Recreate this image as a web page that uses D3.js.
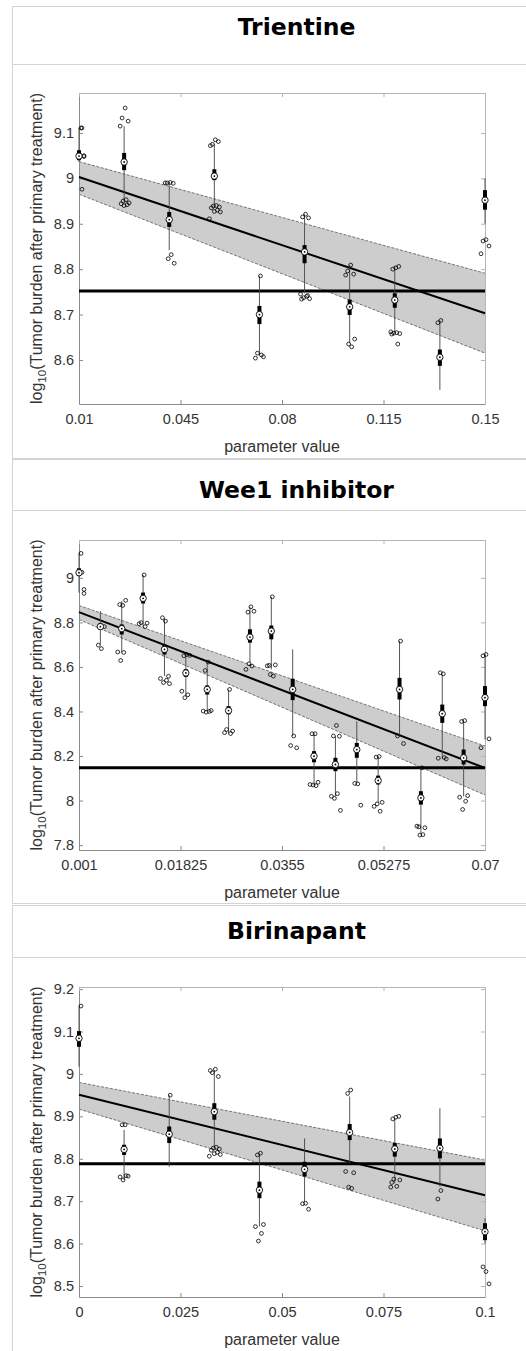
<!DOCTYPE html>
<html>
<head>
<meta charset="utf-8">
<script src="https://cdn.jsdelivr.net/npm/d3@7"></script>
<style>
  body { margin: 0; background: #fff; }
  svg { display: block; }
</style>
</head>
<body>
<svg id="chart"></svg>
<script>
// ---- data ----
const titles = ["Trientine", "Wee1 inhibitor", "Birinapant"];

// Trientine
const param1 = [0.01, 0.02556, 0.04111, 0.05667, 0.07222, 0.08778, 0.10333, 0.11889, 0.13444, 0.15];
const median1 = [9.049, 9.036, 8.909, 9.005, 8.700, 8.838, 8.717, 8.732, 8.606, 8.952];
const q1_1 = [9.040, 9.018, 8.893, 8.996, 8.679, 8.813, 8.699, 8.715, 8.587, 8.931];
const q3_1 = [9.062, 9.056, 8.926, 9.020, 8.719, 8.853, 8.733, 8.747, 8.623, 8.974];
const whLo1 = [9.036, 8.948, 8.842, 8.937, 8.611, 8.747, 8.637, 8.659, 8.534, 8.900];
const whHi1 = [9.111, 9.115, 8.992, 9.076, 8.785, 8.921, 8.809, 8.807, 8.688, 9.000];
const points1 = [
  [9.111, 9.111, 9.050, 9.048, 8.976],
  [9.155, 9.133, 9.126, 9.115, 8.953, 8.950, 8.946, 8.944, 8.942, 8.940],
  [8.991, 8.990, 8.989, 8.990, 8.832, 8.823, 8.813],
  [9.085, 9.075, 9.081, 9.072, 8.940, 8.939, 8.937, 8.935, 8.930, 8.927, 8.926, 8.911],
  [8.785, 8.615, 8.607, 8.604, 8.611],
  [8.921, 8.915, 8.913, 8.745, 8.740, 8.737, 8.735, 8.734, 8.742],
  [8.809, 8.796, 8.789, 8.787, 8.629, 8.635, 8.646],
  [8.803, 8.800, 8.806, 8.662, 8.660, 8.659, 8.658, 8.657, 8.635],
  [8.687, 8.682],
  [8.865, 8.862, 8.851, 8.834]
];
const fitEnds1 = [9.003, 8.703];
const bandHi1 = [9.037, 8.791];
const bandLo1 = [8.965, 8.615];
const control1 = 8.752;
const xTicks1 = ["0.01", "0.045", "0.08", "0.115", "0.15"];
const yTicks1 = ["8.6", "8.7", "8.8", "8.9", "9", "9.1"];

// Wee1 inhibitor
const param2 = [0.001, 0.004632, 0.008263, 0.011895, 0.015526, 0.019158, 0.022789, 0.026421, 0.030053, 0.033684,
                0.037316, 0.040947, 0.044579, 0.048211, 0.051842, 0.055474, 0.059105, 0.062737, 0.066368, 0.07];
const median2 = [9.023, 8.781, 8.772, 8.908, 8.679, 8.573, 8.499, 8.404, 8.734, 8.761,
                 8.499, 8.199, 8.162, 8.229, 8.090, 8.499, 8.012, 8.390, 8.192, 8.462];
const q1_2 = [9.008, 8.769, 8.746, 8.885, 8.656, 8.555, 8.476, 8.387, 8.709, 8.724,
              8.451, 8.172, 8.132, 8.192, 8.072, 8.454, 7.982, 8.349, 8.162, 8.424];
const q3_2 = [9.043, 8.796, 8.791, 8.934, 8.701, 8.590, 8.517, 8.424, 8.769, 8.786,
              8.547, 8.222, 8.192, 8.259, 8.112, 8.551, 8.042, 8.431, 8.229, 8.514];
const whLo2 = [8.933, 8.701, 8.664, 8.781, 8.559, 8.470, 8.400, 8.301, 8.619, 8.589,
               8.290, 8.070, 8.019, 8.079, 7.990, 8.289, 7.855, 8.189, 8.019, 8.274];
const whHi2 = [9.110, 8.851, 8.896, 9.013, 8.817, 8.660, 8.622, 8.499, 8.870, 8.915,
               8.679, 8.300, 8.289, 8.356, 8.199, 8.716, 8.147, 8.566, 8.359, 8.656];
const points2 = [
  [9.110, 9.025, 8.948, 8.930],
  [8.682, 8.698, 8.781],
  [8.876, 8.880, 8.899, 8.667, 8.665, 8.629],
  [9.013, 8.799, 8.797, 8.794, 8.781],
  [8.806, 8.821, 8.558, 8.548, 8.540, 8.530, 8.525],
  [8.656, 8.650, 8.652, 8.491, 8.475, 8.462],
  [8.622, 8.584, 8.404, 8.402, 8.400, 8.397],
  [8.499, 8.319, 8.312, 8.305, 8.301],
  [8.870, 8.846, 8.850, 8.589, 8.604, 8.614],
  [8.915, 8.607, 8.609, 8.605, 8.559, 8.566],
  [8.290, 8.247, 8.237],
  [8.300, 8.300, 8.082, 8.072, 8.067, 8.070],
  [8.337, 8.290, 8.289, 8.019, 8.031, 8.010, 7.956],
  [8.075, 8.077, 7.979],
  [8.198, 8.195, 7.992, 7.974, 7.952, 7.985],
  [8.716, 8.290, 8.256],
  [8.147, 7.882, 7.878, 7.885, 7.847, 7.845],
  [8.569, 8.574, 8.187, 8.190, 8.193],
  [8.359, 8.355, 8.022, 8.015, 7.997, 7.960],
  [8.656, 8.650, 8.277, 8.237]
];
const fitEnds2 = [8.846, 8.146];
const bandHi2 = [8.876, 8.245];
const bandLo2 = [8.813, 8.025];
const control2 = 8.147;
const xTicks2 = ["0.001", "0.01825", "0.0355", "0.05275", "0.07"];
const yTicks2 = ["7.8", "8", "8.2", "8.4", "8.6", "8.8", "9"];

// Birinapant
const param3 = [0, 0.01111, 0.02222, 0.03333, 0.04444, 0.05556, 0.06667, 0.07778, 0.08889, 0.1];
const median3 = [9.084, 8.822, 8.858, 8.911, 8.726, 8.775, 8.862, 8.823, 8.825, 8.628];
const q1_3 = [9.064, 8.809, 8.837, 8.892, 8.707, 8.758, 8.844, 8.805, 8.801, 8.608];
const q3_3 = [9.101, 8.833, 8.876, 8.931, 8.746, 8.793, 8.882, 8.837, 8.848, 8.648];
const whLo3 = [9.017, 8.750, 8.781, 8.825, 8.640, 8.699, 8.789, 8.742, 8.734, 8.600];
const whHi3 = [9.159, 8.868, 8.950, 9.009, 8.813, 8.848, 8.947, 8.895, 8.919, 8.660];
const points3 = [
  [9.160],
  [8.880, 8.880, 8.759, 8.757, 8.760, 8.750],
  [8.950],
  [9.011, 9.003, 8.994, 9.008, 8.827, 8.825, 8.823, 8.820, 8.815, 8.812, 8.810, 8.806],
  [8.813, 8.809, 8.645, 8.640, 8.624, 8.606],
  [8.695, 8.694, 8.681],
  [8.962, 8.954, 8.767, 8.770, 8.730, 8.733],
  [8.898, 8.894, 8.900, 8.733, 8.735, 8.752, 8.750, 8.744],
  [8.725, 8.705],
  [8.534, 8.545, 8.505]
];
const fitEnds3 = [8.951, 8.714];
const bandHi3 = [8.980, 8.797];
const bandLo3 = [8.917, 8.630];
const control3 = 8.788;
const xTicks3 = ["0", "0.025", "0.05", "0.075", "0.1"];
const yTicks3 = ["8.5", "8.6", "8.7", "8.8", "8.9", "9", "9.1", "9.2"];

const xDomains = [[0.01, 0.15], [0.001, 0.07], [0, 0.1]];
const yDomains = [[8.503, 9.188], [7.778, 9.17], [8.474, 9.205]];

// ---- layout ----
const width = 526, height = 1351;
const plotLeft = 79, plotRight = 485;
const frames = [
  { top: 6, sep: 64, bottom: 458, titleY: 35, plotTop: 93, plotBottom: 404 },
  { top: 459, sep: 510, bottom: 903, titleY: 498, plotTop: 540, plotBottom: 850 },
  { top: 905, sep: 957, bottom: 1351, titleY: 939, plotTop: 987, plotBottom: 1297 }
];
// small sideways offsets so overlapping circles separate (px)
const jitter = [1, -2, 4, -4, 2, -1, 5, -3, 3, 0, 6, -5];

const panels = [
  { param: param1, med: median1, q1: q1_1, q3: q3_1, lo: whLo1, hi: whHi1, pts: points1,
    fit: fitEnds1, bHi: bandHi1, bLo: bandLo1, ctrl: control1, xt: xTicks1, yt: yTicks1 },
  { param: param2, med: median2, q1: q1_2, q3: q3_2, lo: whLo2, hi: whHi2, pts: points2,
    fit: fitEnds2, bHi: bandHi2, bLo: bandLo2, ctrl: control2, xt: xTicks2, yt: yTicks2 },
  { param: param3, med: median3, q1: q1_3, q3: q3_3, lo: whLo3, hi: whHi3, pts: points3,
    fit: fitEnds3, bHi: bandHi3, bLo: bandLo3, ctrl: control3, xt: xTicks3, yt: yTicks3 }
];

const svg = d3.select("#chart")
    .attr("width", width)
    .attr("height", height);

const font = "'Liberation Sans', Arial, Helvetica, sans-serif";

panels.forEach((p, i) => {
    const f = frames[i];
    const g = svg.append("g");

    // panel frame
    const frameColor = "#d4d4d4";
    g.append("line").attr("x1", 12.5).attr("x2", 12.5).attr("y1", f.top).attr("y2", f.bottom)
        .attr("stroke", frameColor);
    [f.top, f.sep, f.bottom].forEach(yy => {
        g.append("line").attr("x1", 12).attr("x2", width).attr("y1", yy + 0.5).attr("y2", yy + 0.5)
            .attr("stroke", frameColor);
    });

    g.append("text")
        .attr("x", 296.5)
        .attr("y", f.titleY)
        .attr("text-anchor", "middle")
        .attr("font-family", "'DejaVu Sans', Verdana, sans-serif")
        .attr("font-weight", "bold")
        .attr("font-size", 23.5)
        .attr("fill", "#000")
        .text(titles[i]);

    const x = d3.scaleLinear().domain(xDomains[i]).range([plotLeft, plotRight]);
    const y = d3.scaleLinear().domain(yDomains[i]).range([f.plotBottom, f.plotTop]);

    const xTickVals = p.xt.map(Number);
    const yTickVals = p.yt.map(Number);

    // confidence band
    const xEnds = xDomains[i];
    const band = d3.area()
        .x(d => x(d.x))
        .y0(d => y(d.lo))
        .y1(d => y(d.hi));
    const bandData = xEnds.map((xx, k) => ({ x: xx, lo: p.bLo[k], hi: p.bHi[k] }));
    g.append("path")
        .datum(bandData)
        .attr("d", band)
        .attr("fill", "#cdcdcd");
    const edge = d3.line().x(d => x(d[0])).y(d => y(d[1]));
    [p.bHi, p.bLo].forEach(b => {
        g.append("path")
            .datum(xEnds.map((xx, k) => [xx, b[k]]))
            .attr("d", edge)
            .attr("fill", "none")
            .attr("stroke", "#444")
            .attr("stroke-width", 0.7)
            .attr("stroke-dasharray", "3,1.5");
    });

    // axes (inward ticks, box on)
    const axisColor = "#8a8a8a";
    const styleAxis = sel => {
        sel.select(".domain").attr("stroke", axisColor);
        sel.selectAll(".tick line").attr("stroke", axisColor);
        sel.selectAll(".tick text")
            .attr("fill", "#333")
            .attr("font-family", font)
            .attr("font-size", 14.5);
    };
    g.append("g")
        .attr("transform", `translate(0,${f.plotBottom})`)
        .call(d3.axisBottom(x).tickValues(xTickVals).tickFormat((d, k) => p.xt[k])
            .tickSizeInner(-4).tickSizeOuter(0).tickPadding(10))
        .call(styleAxis);
    g.append("g")
        .attr("transform", `translate(${plotLeft},0)`)
        .call(d3.axisLeft(y).tickValues(yTickVals).tickFormat((d, k) => p.yt[k])
            .tickSizeInner(-4).tickSizeOuter(0).tickPadding(5))
        .call(styleAxis);
    g.append("g")
        .attr("transform", `translate(0,${f.plotTop})`)
        .call(d3.axisTop(x).tickValues(xTickVals).tickFormat("")
            .tickSizeInner(-4).tickSizeOuter(0))
        .call(styleAxis)
        .call(s => s.selectAll("line, path").attr("stroke", "#b5b5b5"));
    g.append("g")
        .attr("transform", `translate(${plotRight},0)`)
        .call(d3.axisRight(y).tickValues(yTickVals).tickFormat("")
            .tickSizeInner(-4).tickSizeOuter(0))
        .call(styleAxis)
        .call(s => s.selectAll("line, path").attr("stroke", "#b5b5b5"));

    // fitted line and control level
    g.append("path")
        .datum(xEnds.map((xx, k) => [xx, p.fit[k]]))
        .attr("d", edge)
        .attr("fill", "none")
        .attr("stroke", "#000")
        .attr("stroke-width", 2);
    g.append("line")
        .attr("x1", x(xEnds[0])).attr("x2", x(xEnds[1]))
        .attr("y1", y(p.ctrl)).attr("y2", y(p.ctrl))
        .attr("stroke", "#000")
        .attr("stroke-width", 3);

    // compact box plots
    const groups = p.param.map((v, k) => ({
        x: v, k: k, med: p.med[k], q1: p.q1[k], q3: p.q3[k], lo: p.lo[k], hi: p.hi[k], pts: p.pts[k]
    }));
    const bx = g.selectAll(".grp").data(groups).enter().append("g").attr("class", "grp");
    bx.append("line")
        .attr("x1", d => x(d.x)).attr("x2", d => x(d.x))
        .attr("y1", d => y(d.lo)).attr("y2", d => y(d.hi))
        .attr("stroke", "#444")
        .attr("stroke-width", 0.9);
    bx.append("rect")
        .attr("x", d => x(d.x) - 2)
        .attr("width", 4)
        .attr("y", d => y(d.q3))
        .attr("height", d => y(d.q1) - y(d.q3))
        .attr("fill", "#000");

    // individual runs (first group kept inside the axis)
    bx.selectAll(".pt")
        .data(d => d.pts.map((v, j) => ({ x: d.x, v: v, j: j, first: d.k === 0 })))
        .enter().append("circle")
        .attr("class", "pt")
        .attr("cx", d => {
            const off = jitter[d.j % jitter.length];
            return x(d.x) + (d.first ? Math.abs(off) + 1 : off);
        })
        .attr("cy", d => y(d.v))
        .attr("r", 1.9)
        .attr("fill", "none")
        .attr("stroke", "#000")
        .attr("stroke-width", 0.8);

    // median markers
    bx.append("circle")
        .attr("cx", d => x(d.x)).attr("cy", d => y(d.med))
        .attr("r", 3.2)
        .attr("fill", "#fff")
        .attr("stroke", "#000")
        .attr("stroke-width", 0.9);
    bx.append("circle")
        .attr("cx", d => x(d.x)).attr("cy", d => y(d.med))
        .attr("r", 0.9)
        .attr("fill", "#000");

    // axis labels
    g.append("text")
        .attr("x", (plotLeft + plotRight) / 2)
        .attr("y", f.plotBottom + 48)
        .attr("text-anchor", "middle")
        .attr("font-family", font)
        .attr("font-size", 16)
        .attr("fill", "#333")
        .text("parameter value");

    const yl = g.append("text")
        .attr("transform", `translate(42,${(f.plotTop + f.plotBottom) / 2}) rotate(-90)`)
        .attr("text-anchor", "middle")
        .attr("font-family", font)
        .attr("font-size", 16)
        .attr("fill", "#333");
    yl.append("tspan").text("log");
    yl.append("tspan").attr("font-size", 11.5).attr("dy", 4).text("10");
    yl.append("tspan").attr("dy", -4).text("(Tumor burden after primary treatment)");
});
</script>
</body>
</html>
